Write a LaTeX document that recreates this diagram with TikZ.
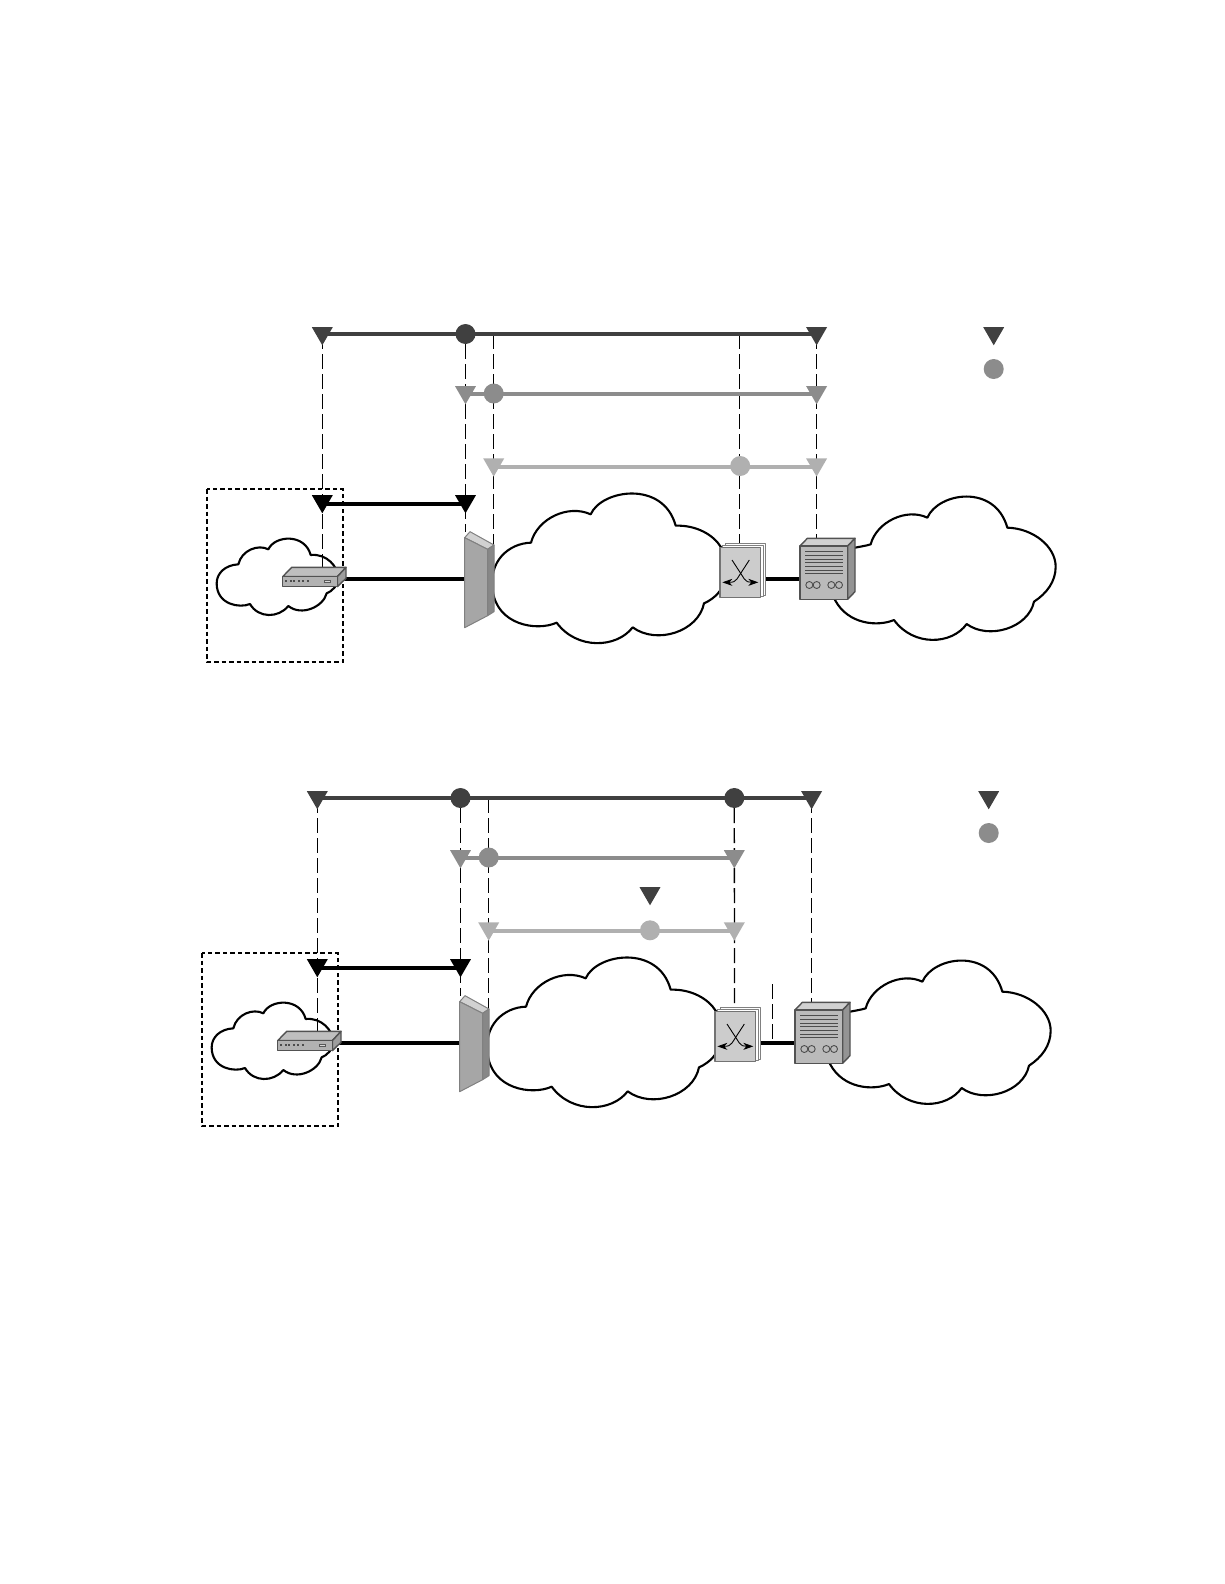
\documentclass[tikz,border=0pt]{standalone}
\usetikzlibrary{shapes.geometric,arrows.meta}
\definecolor{cdark}{HTML}{404040}
\definecolor{cmid}{HTML}{8C8C8C}
\definecolor{clight}{HTML}{B0B0B0}
\pgfdeclarelayer{cloudlayer}
\pgfdeclarelayer{wirelayer}
\pgfsetlayers{cloudlayer,wirelayer,main}
\tikzset{
  cloudline/.style={draw=black,fill=white,line width=2.1pt,line join=round},
  tick/.style={draw=black,line width=1.3pt,dash pattern=on 15pt off 5pt},
  box/.style={draw=black,line width=1.7pt,dash pattern=on 4.5pt off 3pt},
  link/.style={draw=black,line width=4pt},
  bar/.style={line width=4pt},
  tri/.style={regular polygon,regular polygon sides=3,shape border rotate=180,minimum size=24.2pt,inner sep=0pt,fill=#1,yshift=.8pt},
  dot/.style={circle,minimum size=20pt,inner sep=0pt,fill=#1},
  edge/.style={draw=black!68,line width=1.4pt,line join=round},
  zoomA/.style={shift={(190,470)},scale=1/3},
  zoomB/.style={shift={(480,480)},scale=1/3},
  zoomC/.style={shift={(820,485)},scale=1/3},
  zoomD/.style={shift={(690,510)},scale=1/3},
  hockey/.style={black,line width=.9pt,-{Stealth[length=10pt,width=7pt,inset=3pt]}},
  rowb/.style={yshift=1pt},
  rowc/.style={yshift=1.4pt},
  rowd/.style={yshift=1.7pt},
}
\newcommand{\dn}[2]{([yshift=-#1pt]#2.center)}
\newcommand{\clouds}{%
  \begin{scope}[zoomA]
  \path[cloudline] (145,283) .. controls (155,240) and (205,222) .. (235,238)
    .. controls (255,195) and (345,190) .. (362,255)
    .. controls (410,250) and (445,290) .. (445,325)
    .. controls (445,345) and (425,365) .. (410,370)
    .. controls (400,410) and (335,440) .. (295,408)
    .. controls (265,445) and (205,445) .. (180,402)
    .. controls (150,415) and (80,405) .. (80,340)
    .. controls (80,310) and (105,285) .. cycle;
  \end{scope}
  \begin{scope}[zoomB]
  \path[cloudline] (153,188) .. controls (172,115) and (265,72) .. (332,103)
    .. controls (365,28) and (550,0) .. (587,137)
    .. controls (650,135) and (700,165) .. (722,200)
    .. controls (760,265) and (740,340) .. (672,370)
    .. controls (655,455) and (530,495) .. (458,442)
    .. controls (410,505) and (290,510) .. (230,428)
    .. controls (170,455) and (50,435) .. (38,330)
    .. controls (25,245) and (85,190) .. cycle;
  \end{scope}
  \begin{scope}[zoomC]
  \path[cloudline] (152,178) .. controls (170,110) and (260,68) .. (322,98)
    .. controls (355,22) and (525,-5) .. (562,128)
    .. controls (640,130) and (707,185) .. (707,245)
    .. controls (707,290) and (680,325) .. (642,350)
    .. controls (625,430) and (505,465) .. (440,417)
    .. controls (395,480) and (280,485) .. (222,405)
    .. controls (175,425) and (85,420) .. (45,345)
    .. controls (0,280) and (50,200) .. (105,188)
    .. controls (120,185) and (140,182) .. cycle;
  \end{scope}
}
\newcommand{\devices}{%
  \begin{scope}[zoomA]
  % router
  \path[edge,fill=black!25] (278,320) -- (305,292) -- (468,292) -- (442,320) -- cycle;
  \path[edge,fill=black!38] (442,320) -- (468,292) -- (468,325) -- (442,350) -- cycle;
  \path[edge,fill=black!30] (278,320) rectangle (442,350);
  \foreach \q in {288,302,313,326,340,353}{\fill[black!70] (\q-3,330) rectangle (\q+3,335);}
  \draw[black!65,line width=.7pt,fill=black!15] (403,330) rectangle (421,338);
  % firewall
  \path[edge,draw=black!50,line width=1pt,fill=black!18] (824,203) -- (840,185) -- (912,225) -- (893,238) -- cycle;
  \path[edge,draw=black!50,line width=1pt,fill=black!47] (893,238) -- (912,225) -- (912,425) -- (893,437) -- cycle;
  \path[edge,draw=black!50,line width=1pt,fill=black!35] (824,203) -- (893,238) -- (893,437) -- (824,473) -- cycle;
  \end{scope}
  \begin{scope}[zoomD]
  % switch
  \path[edge,line width=1pt,draw=black!50,fill=white] (106,100) rectangle (227,255);
  \path[edge,line width=1pt,draw=black!50,fill=white] (98,105) rectangle (220,258);
  \path[edge,line width=1.2pt,draw=black!55,fill=black!20] (90,112) rectangle (212,262);
  \draw[hockey] (126,150) -- (163,207) .. controls (168,215) and (175,217) .. (205,217);
  \draw[hockey] (178,150) -- (141,207) .. controls (136,215) and (129,217) .. (97,217);
  % server
  \path[edge,fill=black!18] (330,108) -- (352,85) -- (495,85) -- (473,108) -- cycle;
  \path[edge,fill=black!42] (473,108) -- (495,85) -- (495,245) -- (473,268) -- cycle;
  \path[edge,fill=black!27] (330,108) rectangle (473,268);
  \foreach \q in {125,136,147,158,169,180,190}{\draw[black!70,line width=.8pt] (345,\q) -- (460,\q);}
  \foreach \q in {358,380,424,447}{\draw[black!70,line width=.9pt] (\q,225) circle (10.5);}
  \end{scope}
}
% anchors shared by both panels, in the upper panel's frame
\newcommand{\anchors}{%
  \coordinate (bl) at (206.7,489); \coordinate (br) at (343,661.7);
  \coordinate (ea) at (322.3,575); \coordinate (eb) at (465.5,532);
  \coordinate (ec) at (493.7,547); \coordinate (ed) at (739.5,545);
  \coordinate (ee) at (816.6,540);
  \coordinate (rt) at (340,578.7); \coordinate (fw) at (466,578.7);
  \coordinate (sw) at (762,579); \coordinate (sv) at (801,579);
}
\begin{document}
\begin{tikzpicture}[x=1pt,y=-1pt]
\useasboundingbox (0,0) rectangle (1224,1584);
% ---------- upper panel ----------
\begin{scope}[name prefix=u-]
  \anchors
  \node[tri=cdark] (t1) at (322.3,334) {};
  \node[dot=cdark] (c1) at (465.5,334) {};
  \coordinate (j1) at (493.7,334); \coordinate (j2) at (739.5,334);
  \node[tri=cdark] (t2) at (816.6,334) {};
  \node[tri=cmid,rowb] (t3) at (465.5,394) {};
  \node[dot=cmid] (c2) at (493.7,393.5) {};
  \node[tri=cmid,rowb] (t4) at (816.6,394) {};
  \node[tri=clight,rowc] (t5) at (493.7,466.7) {};
  \node[dot=clight] (c3) at (740.2,466) {};
  \node[tri=clight,rowc] (t6) at (816.6,466.7) {};
  \node[tri=black,rowd] (t7) at (322.3,503.7) {};
  \node[tri=black,rowd] (t8) at (465.5,503.7) {};
  \node[tri=cdark] (l1) at (993.7,334) {};
  \node[dot=cmid] (l2) at (993.7,369) {};
  \devices
  \begin{pgfonlayer}{cloudlayer}\clouds\end{pgfonlayer}
  \begin{pgfonlayer}{wirelayer}
  \draw[box] (bl) rectangle (br);
  \draw[tick] \dn{.8}{t1} -- (ea);
  \draw[tick] (c1) -- (eb);
  \draw[tick] (j1) -- (ec);
  \draw[tick] (j2) -- (ed);
  \draw[tick] \dn{.8}{t2} -- (ee);
  \draw[cdark,bar] \dn{.8}{t1} -- \dn{.8}{t2};
  \draw[cmid,bar] \dn{1.8}{t3} -- \dn{1.8}{t4};
  \draw[clight,bar] \dn{2.2}{t5} -- \dn{2.2}{t6};
  \draw[black,bar] \dn{2.5}{t7} -- \dn{2.5}{t8};
  \draw[link] (rt) -- (fw);
  \draw[link] (sw) -- (sv);
  \end{pgfonlayer}
\end{scope}
% ---------- lower panel ----------
\begin{scope}[name prefix=v-,shift={(-5,464)}]
  \anchors
  \node[tri=cdark] (t1) at (322.3,334) {};
  \node[dot=cdark] (c1) at (465.5,334) {};
  \coordinate (j1) at (493.7,334);
  \node[dot=cdark] (c4) at (739.3,334) {};
  \node[tri=cdark] (t2) at (816.6,334) {};
  \node[tri=cmid,rowb] (t3) at (465.5,394) {};
  \node[dot=cmid] (c2) at (493.7,393.5) {};
  \node[tri=cmid,rowb] (t4) at (739.3,394) {};
  \node[tri=cdark] (t9) at (655,430) {};
  \node[tri=clight,rowc] (t5) at (493.7,466.7) {};
  \node[dot=clight] (c3) at (655,466.3) {};
  \node[tri=clight,rowc] (t6) at (739.3,466.7) {};
  \node[tri=black,rowd] (t7) at (322.3,503.7) {};
  \node[tri=black,rowd] (t8) at (465.5,503.7) {};
  \node[tri=cdark] (l1) at (993.7,334) {};
  \node[dot=cmid] (l2) at (993.7,369) {};
  \coordinate (x1) at (777.3,520); \coordinate (x2) at (777.3,578);
  \devices
  \begin{pgfonlayer}{cloudlayer}\clouds\end{pgfonlayer}
  \begin{pgfonlayer}{wirelayer}
  \draw[box] (bl) rectangle (br);
  \draw[tick] \dn{.8}{t1} -- (ea);
  \draw[tick] (c1) -- (eb);
  \draw[tick] (j1) -- (ec);
  \draw[tick] (c4) -- (ed);
  \draw[tick] \dn{.8}{t2} -- (ee);
  \draw[tick] (x1) -- (x2);
  \draw[cdark,bar] \dn{.8}{t1} -- \dn{.8}{t2};
  \draw[cmid,bar] \dn{1.8}{t3} -- \dn{1.8}{t4};
  \draw[clight,bar] \dn{2.2}{t5} -- \dn{2.2}{t6};
  \draw[black,bar] \dn{2.5}{t7} -- \dn{2.5}{t8};
  \draw[link] (rt) -- (fw);
  \draw[link] (sw) -- (sv);
  \end{pgfonlayer}
\end{scope}
\end{tikzpicture}
\end{document}
